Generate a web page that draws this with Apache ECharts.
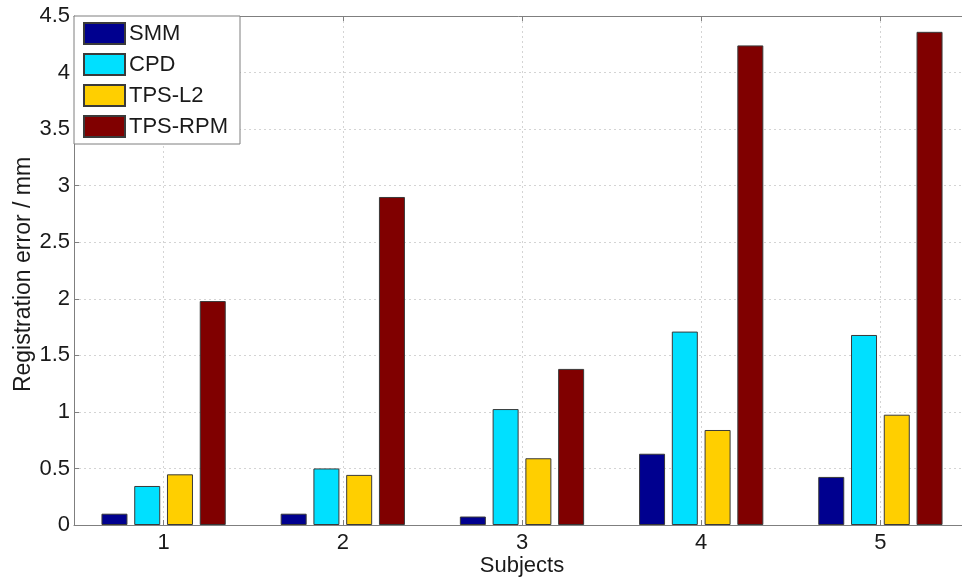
<!DOCTYPE html>
<html>
<head>
<meta charset="utf-8">
<script src="https://cdn.jsdelivr.net/npm/echarts@6/dist/echarts.min.js"></script>
<style>
html,body{margin:0;padding:0;background:#fff;}
#chart{width:962px;height:580px;}
</style>
</head>
<body>
<div id="chart"></div>
<script>
var categories = ['1', '2', '3', '4', '5'];
var seriesNames = ['SMM', 'CPD', 'TPS-L2', 'TPS-RPM'];
var smm = [0.10, 0.10, 0.075, 0.63, 0.425];
var cpd = [0.345, 0.50, 1.025, 1.71, 1.68];
var tpsL2 = [0.448, 0.443, 0.59, 0.84, 0.975];
var tpsRpm = [1.98, 2.90, 1.38, 4.24, 4.36];
var colors = ['#00008F', '#00E0FF', '#FFCF00', '#800000'];
var seriesValues = [smm, cpd, tpsL2, tpsRpm];

var font = 'Liberation Sans, Arial, sans-serif';
var axisGray = '#7f7f7f';
var textColor = '#1a1a1a';
var gridColor = '#d4d4d4';

// half-step positions for the top (helper) axis: odd indices are category centres
var halfSteps = [];
for (var h = 0; h <= categories.length * 2; h++) { halfSteps.push(String(h)); }
function isCentre(index) { return index % 2 === 1; }

var chart = echarts.init(document.getElementById('chart'), null, {renderer: 'canvas'});

var series = seriesNames.map(function (name, i) {
  return {
    name: name,
    type: 'bar',
    xAxisIndex: 0,
    data: seriesValues[i],
    barWidth: 26,
    barGap: '26%',
    itemStyle: {color: colors[i], borderColor: '#3a3a3a', borderWidth: 1},
    emphasis: {disabled: true}
  };
});

chart.setOption({
  animation: false,
  backgroundColor: '#ffffff',
  textStyle: {fontFamily: font},
  grid: {left: 74, top: 16, width: 896, height: 509, show: false, outerBoundsMode: 'none', containLabel: false},
  legend: {
    orient: 'vertical',
    left: 74,
    top: 16,
    data: seriesNames,
    icon: 'rect',
    itemWidth: 41,
    itemHeight: 21,
    itemGap: 8,
    padding: [6, 12, 6, 9],
    backgroundColor: '#ffffff',
    borderColor: axisGray,
    borderWidth: 1,
    textStyle: {fontFamily: font, fontSize: 22, color: textColor, padding: [0, 0, 0, -1]},
    selectedMode: false
  },
  xAxis: [{
    type: 'category',
    data: categories,
    position: 'bottom',
    name: 'Subjects',
    nameLocation: 'middle',
    nameGap: 30,
    nameMoveOverlap: false,
    nameTextStyle: {fontFamily: font, fontSize: 22, color: textColor},
    axisLine: {show: true, lineStyle: {color: axisGray, width: 1}},
    axisTick: {show: true, inside: true, alignWithLabel: true, length: 5, lineStyle: {color: axisGray}},
    axisLabel: {fontFamily: font, fontSize: 22, color: textColor, margin: 7},
    splitLine: {show: false}
  }, {
    type: 'category',
    data: halfSteps,
    boundaryGap: false,
    position: 'top',
    axisLine: {show: true, lineStyle: {color: axisGray, width: 1}},
    axisTick: {show: true, inside: true, length: 5, interval: function (index) { return isCentre(index); }, lineStyle: {color: axisGray}},
    axisLabel: {show: false},
    splitLine: {show: true, interval: function (index) { return isCentre(index); }, lineStyle: {color: gridColor, type: [2, 3], width: 1}}
  }],
  yAxis: {
    type: 'value',
    min: 0,
    max: 4.5,
    interval: 0.5,
    name: 'Registration error / mm',
    nameLocation: 'middle',
    nameGap: 39,
    nameMoveOverlap: false,
    nameTextStyle: {fontFamily: font, fontSize: 23, color: textColor, padding: [0, 0, 0, -8]},
    axisLine: {show: true, lineStyle: {color: axisGray, width: 1}},
    axisTick: {show: true, inside: true, length: 5, lineStyle: {color: axisGray}},
    axisLabel: {fontFamily: font, fontSize: 22, color: textColor, margin: 4},
    splitLine: {show: true, lineStyle: {color: gridColor, type: [2, 3], width: 1}}
  },
  series: series
});
</script>
</body>
</html>
